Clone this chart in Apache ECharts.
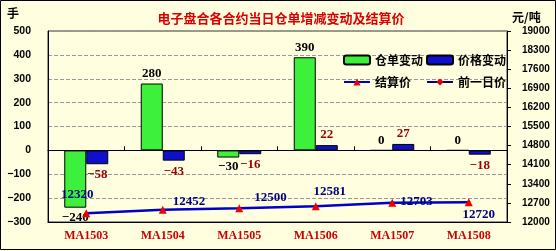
<!DOCTYPE html>
<html><head><meta charset="utf-8">
<script src="https://cdn.jsdelivr.net/npm/echarts@6/dist/echarts.min.js"></script>
<style>html,body{margin:0;padding:0;background:#FFFFE0}#c{width:556px;height:251px}</style>
</head><body><div id="c"></div>
<script>
const categories = ['MA1503','MA1504','MA1505','MA1506','MA1507','MA1508'];
const warrantChange = [-240, 280, -30, 390, 0, 0];
const priceChange = [-58, -43, -16, 22, 27, -18];
const settlePrice = [12320, 12452, 12500, 12581, 12703, 12720];
const prevPrice = [12320, 12452, 12500, 12581, 12703, 12720];

const priceLabelPos = [['top',[-9,-4]],['right',[2,-8]],['right',[7,-11]],['top',[14,0]],['right',[0,-1]],['bottom',[10,-2]]];
const fmt = v => String(v).replace('-', '\u2212');
const numFont = {fontFamily:'Liberation Serif', fontWeight:'bold', fontSize:13};

const chart = echarts.init(document.getElementById('c'));
chart.setOption({
  backgroundColor:'#FFFFE0',
  animation:false,
  title:{text:'电子盘合各合约当日仓单增减变动及结算价', left:276, textAlign:'center', top:7,
    textStyle:{color:'#DD0000', fontSize:13, fontWeight:'bold', fontFamily:'Noto Sans CJK SC'}},
  graphic:[
    {type:'rect', shape:{x:0.5,y:0.5,width:555,height:249}, style:{fill:'none', stroke:'#000', lineWidth:1}},
    {type:'text', left:7, top:7, style:{text:'手', fontSize:12, fontWeight:'bold', fontFamily:'Noto Sans CJK SC', fill:'#000'}},
    {type:'text', left:512, top:11, style:{text:'元/吨', fontSize:12, fontWeight:'bold', fontFamily:'Noto Sans CJK SC', fill:'#000'}}
  ],
  legend:[
    {data:['仓单变动','价格变动'], left:338, top:49, itemWidth:26, itemHeight:9, itemGap:3,
     textStyle:{fontSize:12, fontWeight:'bold', fontFamily:'Noto Sans CJK SC', color:'#000'}},
    {data:['结算价','前一日价'], left:338, top:71, itemWidth:26, itemHeight:9, itemGap:15,
     textStyle:{fontSize:12, fontWeight:'bold', fontFamily:'Noto Sans CJK SC', color:'#000'}}
  ],
  grid:{left:48, right:49, top:31, bottom:29, show:true, borderColor:'#333', borderWidth:1, backgroundColor:'transparent'},
  xAxis:[
    {type:'category', data:categories, position:'bottom',
     axisLine:{onZero:false, lineStyle:{color:'#000'}}, axisTick:{show:false},
     axisLabel:{color:'#CC0000', fontFamily:'Liberation Serif', fontWeight:'bold', fontSize:12, margin:8}},
    {type:'category', data:categories, position:'bottom',
     axisLine:{onZero:true, lineStyle:{color:'#000'}},
     axisTick:{show:true, inside:true, length:4, lineStyle:{color:'#000'}},
     axisLabel:{show:false}}
  ],
  yAxis:[
    {type:'value', min:-300, max:500, interval:100,
     axisLine:{show:true, lineStyle:{color:'#000'}}, axisTick:{show:false},
     splitLine:{show:true, lineStyle:{type:'dashed', color:'#999'}},
     axisLabel:{color:'#000', fontFamily:'Liberation Sans', fontWeight:'bold', fontSize:10.5, formatter:fmt, margin:17}},
    {type:'value', min:12000, max:19000, interval:700,
     axisLine:{show:true, lineStyle:{color:'#000'}}, axisTick:{show:true, length:4, lineStyle:{color:'#000'}},
     splitLine:{show:false},
     axisLabel:{color:'#000', fontFamily:'Liberation Sans', fontWeight:'bold', fontSize:10, margin:15, formatter:v=>String(v)}}
  ],
  series:[
    {name:'仓单变动', type:'bar', barWidth:22, barGap:'0%',
     itemStyle:{color:'#3CF03C', borderColor:'#000', borderWidth:1},
     data:warrantChange.map(v=>({value:v, label:{position: v<0?'bottom':'top'}})),
     label:{show:true, color:'#000', ...numFont, formatter:p=>fmt(p.value), distance:3}},
    {name:'价格变动', type:'bar', barWidth:22, barGap:'0%',
     itemStyle:{color:'#1010CC', borderColor:'#000', borderWidth:1},
     data:priceChange.map(v=>({value:v, label:{position: v<0?'bottom':'top'}})),
     label:{show:true, color:'#990000', ...numFont, formatter:p=>fmt(p.value), distance:4}},
    {name:'前一日价', type:'line', yAxisIndex:1, data:prevPrice,
     lineStyle:{color:'#000080', width:1}, itemStyle:{color:'#EE0000'},
     symbol:'diamond', symbolSize:4, z:3},
    {name:'结算价', type:'line', yAxisIndex:1,
     data:settlePrice.map((v,i)=>({value:v, label:{position:priceLabelPos[i][0], offset:priceLabelPos[i][1]}})),
     lineStyle:{color:'#0000CC', width:2.5}, itemStyle:{color:'#EE0000'},
     symbol:'triangle', symbolSize:8, z:4,
     label:{show:true, color:'#000080', ...numFont, distance:4}}
  ]
});
</script></body></html>
